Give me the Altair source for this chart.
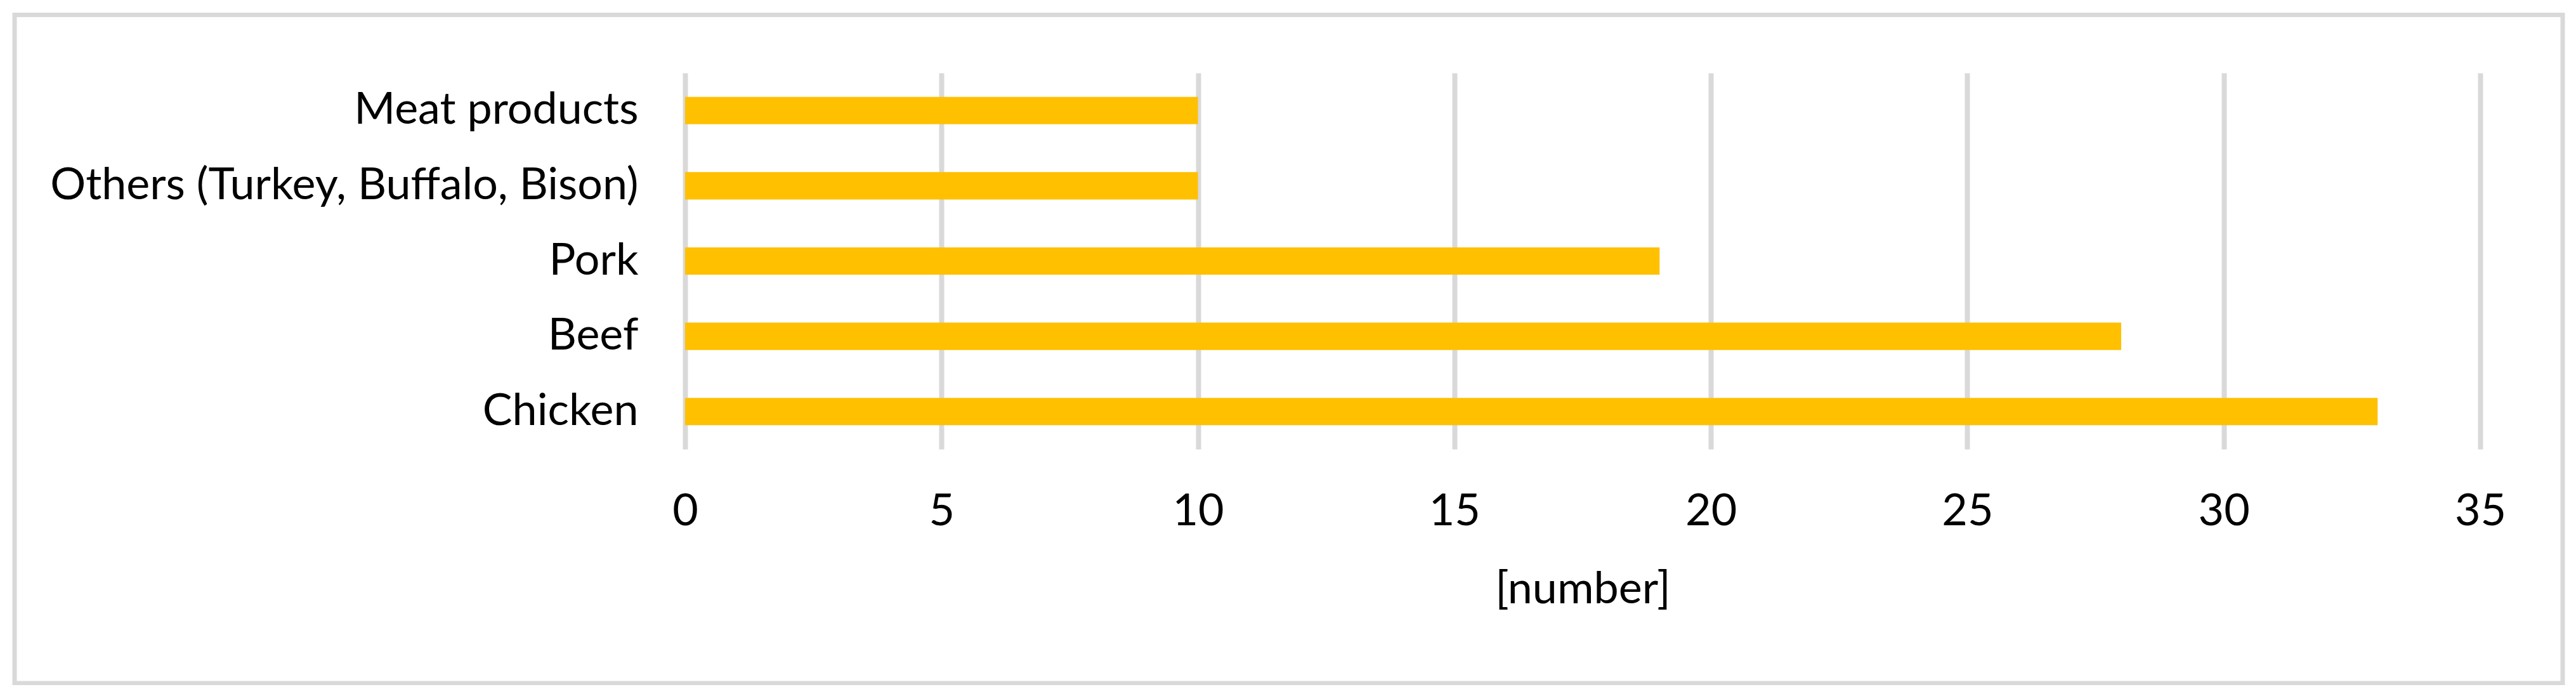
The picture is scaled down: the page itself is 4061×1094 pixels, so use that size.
import altair as alt
import pandas as pd

categories = ["Meat products", "Others (Turkey, Buffalo, Bison)", "Pork", "Beef", "Chicken"]
values = [10, 10, 19, 28, 33]
x_ticks = [0, 5, 10, 15, 20, 25, 30, 35]
x_title = "[number]"

df = pd.DataFrame({"category": categories, "value": values})

FONT = "Lato"
FS = 70
GRID = "#D9D9D9"

bars = alt.Chart(df).mark_bar(color="#FFC000").encode(
    x=alt.X(
        "value:Q",
        scale=alt.Scale(domain=[0, 35], nice=False, zero=True),
        axis=alt.Axis(
            values=x_ticks,
            title=x_title,
            grid=True,
            gridColor=GRID,
            gridWidth=8,
            domain=False,
            ticks=False,
            labelFont=FONT,
            labelFontSize=FS,
            labelColor="#000000",
            labelPadding=64,
            labelFlush=False,
            titleFont=FONT,
            titleFontSize=FS,
            titleFontWeight="normal",
            titleColor="#000000",
            titleBaseline="alphabetic",
            titleY=242,
        ),
    ),
    y=alt.Y(
        "category:N",
        sort=categories,
        scale=alt.Scale(paddingInner=0.637, paddingOuter=0.3185),
        axis=alt.Axis(
            title="",
            grid=False,
            domain=False,
            ticks=False,
            labelFont=FONT,
            labelFontSize=FS,
            labelColor="#000000",
            labelPadding=74,
            labelLimit=2000,
        ),
    ),
)

frame = alt.Chart(pd.DataFrame({"a": [0]})).mark_rect(
    fillOpacity=0, stroke=GRID, strokeWidth=7
).encode(
    x=alt.value(-1057),
    x2=alt.value(2960),
    y=alt.value(-91.5),
    y2=alt.value(962),
)

chart = alt.layer(bars, frame).properties(
    width=2830,
    height=593,
    background="#FFFFFF",
    autosize=alt.AutoSizeParams(type="none"),
    padding={"left": 1072, "top": 107, "right": 138, "bottom": 372},
).configure_view(strokeOpacity=0, strokeWidth=0)

chart.save("out.html", embed_options={"renderer": "svg", "actions": False})
